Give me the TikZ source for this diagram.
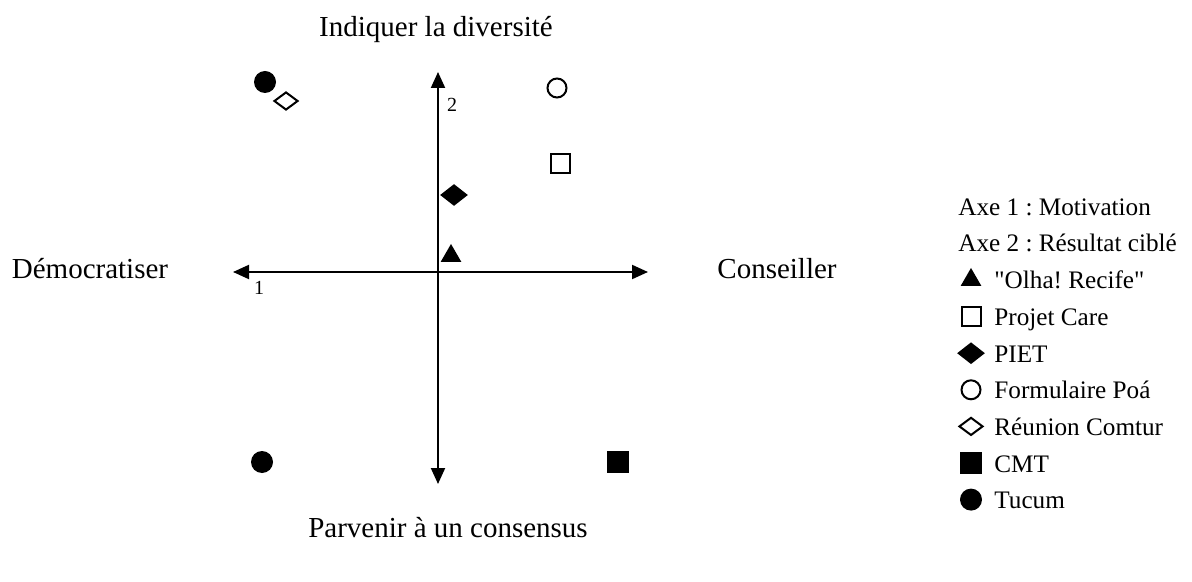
\documentclass[tikz,border=0pt]{standalone}
\usepackage{fontspec}
\setmainfont{Liberation Serif}
\usepackage{tikz}
\usetikzlibrary{positioning,shapes.geometric,arrows.meta}
\frenchspacing

\tikzset{
    axis/.style={line width=1pt,{Triangle[length=8pt,width=7pt]}-{Triangle[length=8pt,width=7pt]}},
    pole/.style={font=\fontsize{14.5}{17}\selectfont,anchor=base,inner sep=0pt},
    axnum/.style={font=\fontsize{10}{11}\selectfont,anchor=base,inner sep=0pt},
    legtext/.style={font=\fontsize{12.6}{15}\selectfont,anchor=base west,inner sep=0pt},
    tri/.style={regular polygon,regular polygon sides=3,fill,inner sep=0pt,minimum size=12pt},
    osq/.style={rectangle,draw,line width=1pt,inner sep=0pt,minimum size=9.5pt},
    fsq/.style={rectangle,fill,inner sep=0pt,minimum size=11pt},
    fdia/.style={diamond,fill,inner sep=0pt,minimum width=14pt,minimum height=11pt},
    odia/.style={diamond,draw,line width=1pt,inner sep=0pt,minimum width=12pt,minimum height=9pt},
    ocirc/.style={circle,draw,line width=1pt,inner sep=0pt,minimum size=9.5pt},
    fcirc/.style={circle,fill,inner sep=0pt,minimum size=11pt}
}

\begin{document}
\begin{tikzpicture}[x=0.5pt,y=-0.5pt]
\useasboundingbox (0,0) rectangle (1192,582);

\coordinate (west) at (233,272);
\coordinate (east) at (648,272);
\coordinate (north) at (438,72);
\coordinate (south) at (438,484);

\draw[axis] (west) -- (east);
\draw[axis] (south) -- (north);

\node[axnum] (one) at (259,295) {1};
\node[axnum] (two) at (452,112) {2};

\node[pole] (top) at (436,37) {Indiquer la diversité};
\node[pole] (left) at (90,279) {Démocratiser};
\node[pole,anchor=base west] (right) at (717,279) {Conseiller};
\node[pole] (bottom) at (448,537) {Parvenir à un consensus};

% positions des projets
\node[tri] (olha) at (451,256) {};
\node[osq] (care) at (560,164) {};
\node[fdia] (piet) at (454,195) {};
\node[ocirc] (poa) at (557,88) {};
\node[odia] (comtur) at (286,101) {};
\node[fsq] (cmt) at (618,462) {};
\node[fcirc] (tucumA) at (265,82) {};
\node[fcirc] (tucumB) at (262,462) {};

% legende
\node[legtext] (axeA) at (958,216) {Axe 1 : Motivation};
\node[legtext] (axeB) at (958,252) {Axe 2 : Résultat ciblé};

\foreach \i/\style/\label in {0/tri/\textquotedbl Olha! Recife\textquotedbl, 1/osq/Projet Care, 2/fdia/PIET, 3/ocirc/Formulaire Poá, 4/odia/Réunion Comtur, 5/fsq/CMT, 6/fcirc/Tucum} {
    \node[\style] (mark\i) at (971,{280+36.6*\i}) {};
    \node[legtext] (name\i) at (994,{289+36.6*\i}) {\label};
}
\end{tikzpicture}
\end{document}
